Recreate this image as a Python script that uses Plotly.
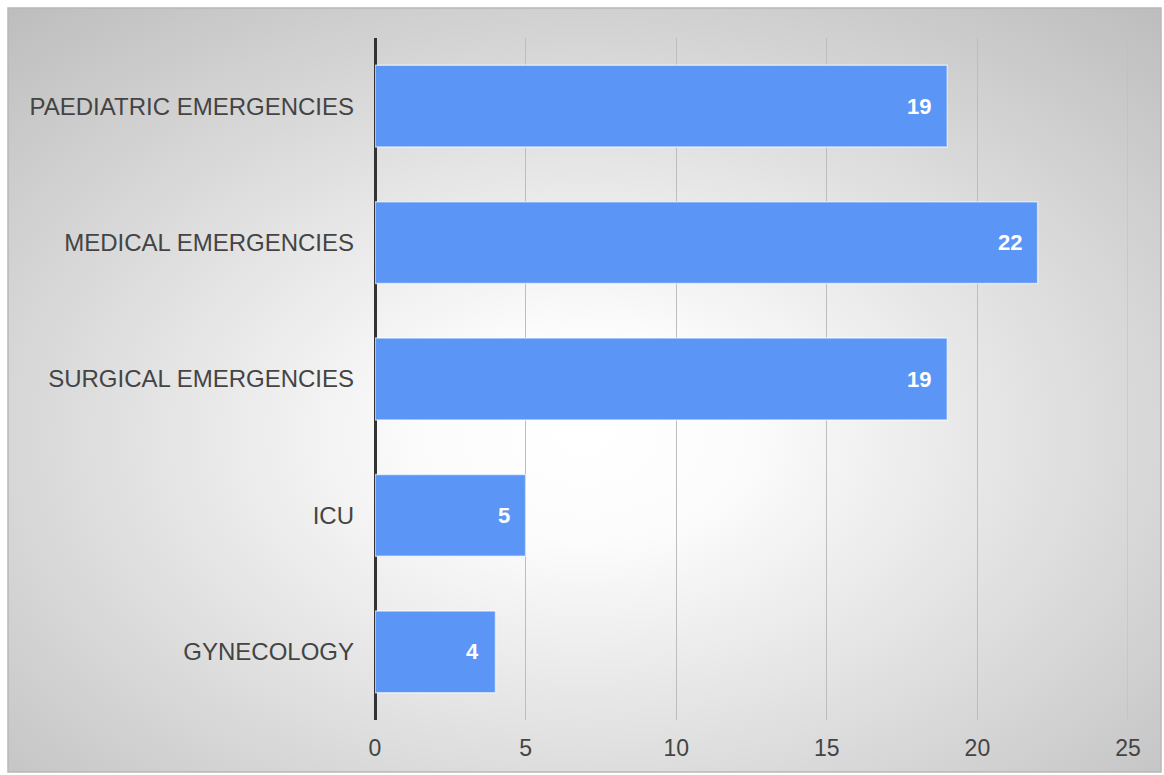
import base64
import plotly.graph_objects as go

categories = ["PAEDIATRIC EMERGENCIES", "MEDICAL EMERGENCIES", "SURGICAL EMERGENCIES", "ICU", "GYNECOLOGY"]
counts = [19, 22, 19, 5, 4]
x_ticks = [0, 5, 10, 15, 20, 25]

BAR_COLOR = "#5b95f5"
FONT = "Liberation Sans, Arial, sans-serif"

W, H = 1164, 775
L, R, T, B = 375, 36, 38, 55
pw, ph = W - L - R, H - T - B

def px_to_paper_x(px):
    return (px - L) / pw

def px_to_paper_y(py):
    return (H - B - py) / ph

# radial grey-to-white backdrop for the chart frame
svg = (
    '<svg xmlns="http://www.w3.org/2000/svg" width="1153" height="764" preserveAspectRatio="none">'
    '<defs><radialGradient id="g" cx="50%" cy="56%" r="76%" fx="50%" fy="56%">'
    '<stop offset="0" stop-color="#ffffff"/>'
    '<stop offset="0.18" stop-color="#fcfcfc"/>'
    '<stop offset="1" stop-color="#bcbcbc"/>'
    '</radialGradient></defs>'
    '<rect width="1153" height="764" fill="url(#g)"/></svg>'
)
bg_src = "data:image/svg+xml;base64," + base64.b64encode(svg.encode()).decode()

fx0, fx1, fy0, fy1 = 8, 1161, 8, 772

fig = go.Figure()
fig.add_trace(go.Bar(
    y=categories,
    x=counts,
    orientation="h",
    marker=dict(color=BAR_COLOR, line=dict(color="rgba(255,255,255,0.6)", width=1.5)),
    hoverinfo="x+y",
))

for cat, v in zip(categories, counts):
    fig.add_annotation(
        x=v, y=cat, xref="x", yref="y",
        text=f"<b>{v}</b>", showarrow=False,
        xanchor="right", xshift=-14,
        font=dict(family=FONT, size=22, color="white"),
    )

fig.update_layout(
    width=W, height=H,
    margin=dict(l=L, r=R, t=T, b=B),
    paper_bgcolor="white",
    plot_bgcolor="rgba(0,0,0,0)",
    bargap=0.4,
    showlegend=False,
    font=dict(family=FONT, color="#444444"),
    images=[dict(
        source=bg_src, xref="paper", yref="paper",
        x=px_to_paper_x(fx0), y=px_to_paper_y(fy0),
        sizex=px_to_paper_x(fx1) - px_to_paper_x(fx0),
        sizey=px_to_paper_y(fy0) - px_to_paper_y(fy1),
        sizing="stretch", layer="below", xanchor="left", yanchor="top",
    )],
    shapes=[
        dict(
            type="rect", xref="paper", yref="paper",
            x0=px_to_paper_x(fx0), x1=px_to_paper_x(fx1),
            y0=px_to_paper_y(fy1), y1=px_to_paper_y(fy0),
            line=dict(color="#b8b8b8", width=1.5), layer="below",
        ),
        # gridline at the far edge of the value axis
        dict(
            type="line", xref="x", yref="paper",
            x0=x_ticks[-1], x1=x_ticks[-1], y0=0, y1=1,
            line=dict(color="#bdbdbd", width=1), layer="below",
        ),
    ],
    xaxis=dict(
        range=[0, 25], tickvals=x_ticks,
        showgrid=True, gridcolor="#bdbdbd", gridwidth=1,
        zeroline=True, zerolinecolor="#333333", zerolinewidth=3,
        showline=False, ticks="",
        tickfont=dict(family=FONT, size=23, color="#444444"),
        ticklabelstandoff=12,
        fixedrange=True,
    ),
    yaxis=dict(
        categoryorder="array", categoryarray=categories[::-1],
        showgrid=False, zeroline=False, showline=False, ticks="",
        tickfont=dict(family=FONT, size=24, color="#444444"),
        ticklabelstandoff=20,
        fixedrange=True,
    ),
)

fig.write_html("out.html")
